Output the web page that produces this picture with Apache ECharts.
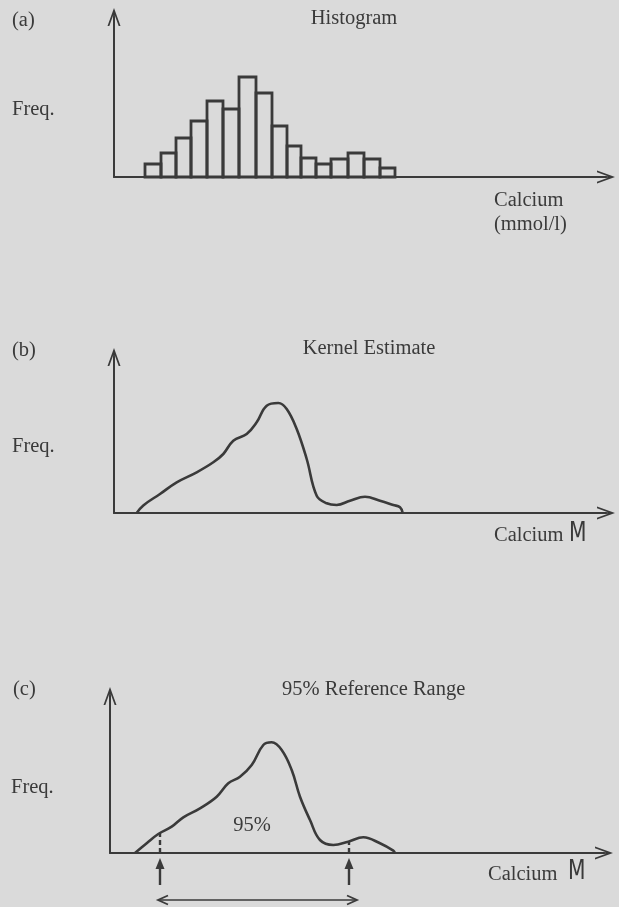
<!DOCTYPE html>
<html>
<head>
<meta charset="utf-8">
<script src="https://cdn.jsdelivr.net/npm/echarts@6/dist/echarts.min.js"></script>
<style>
html,body{margin:0;padding:0;background:#dadada;}
#chart{width:619px;height:907px;}
</style>
</head>
<body>
<div id="chart"></div>
<script>
// ---- data (x: calcium position along axis, y: frequency) ----
const histEdges = [31, 47, 62, 77, 93, 109, 125, 142, 158, 173, 187, 202, 217, 234, 250, 266, 281];
const histFreq  = [13, 24, 39, 56, 76, 68, 100, 84, 51, 31, 19, 13, 18, 24, 18, 9];

const kernelX = [22.7, 29.3, 46, 62.7, 82.7, 99.3, 109.3, 119.3, 132.7, 142.7, 152.7, 164.3, 172.7, 182.7, 192.7, 202.7, 212.7, 222.7, 236, 251, 266, 279.3, 286, 288.7];
const kernelY = [0, 7.6, 19, 30.7, 40.7, 50.7, 59, 72.3, 79, 90.7, 107.3, 110, 104, 84, 54, 17.3, 9.7, 8, 12.3, 16.3, 12.3, 8, 5.7, 0];

const refX = [25, 36.7, 48.3, 61.7, 73.3, 90, 106.7, 118.3, 130, 141.7, 153.3, 161.7, 171.7, 181.7, 190, 200, 210, 223.3, 238.3, 253.3, 270, 283.3, 285];
const refY = [0, 9.7, 19, 26.3, 35.7, 44.7, 56.3, 69.7, 76.3, 88, 108, 110.7, 103, 83, 56.3, 33, 13, 8, 11.3, 15.7, 9.7, 2.3, 0];

const refRange = [50, 239];      // 2.5% and 97.5% limits
const refRangeTop = [20, 11.5];  // curve height at those limits

const panelLetters = ['(a)', '(b)', '(c)'];
const panelTitles = ['Histogram', 'Kernel Estimate', '95% Reference Range'];
const yAxisName = 'Freq.';
const xAxisName = 'Calcium';
const xAxisUnitA = '(mmol/l)';
const xAxisUnitM = 'M';
const areaLabel = '95%';

// ---- styling ----
const INK = '#3a3a3a';
const SERIF = '"Liberation Serif", "DejaVu Serif", serif';
const arrowPath = 'path://M0,18L6.5,0L13,18L11.2,18L6.5,5L1.8,18Z M5.7,3L7.3,3L7.3,18L5.7,18Z';

const grids = [
  {left: 114, top: 17, width: 492, height: 160},
  {left: 114, top: 357, width: 492, height: 156},
  {left: 110, top: 696, width: 494, height: 157}
];

function axisCommon(gi) {
  return {
    gridIndex: gi, type: 'value', min: 0,
    axisLine: {show: true, onZero: false, symbol: ['none', arrowPath], symbolSize: [13, 18],
      lineStyle: {color: INK, width: 2}},
    axisTick: {show: false}, axisLabel: {show: false}, splitLine: {show: false}
  };
}
const xAxes = grids.map((g, i) => Object.assign(axisCommon(i), {max: g.width}));
const yAxes = grids.map((g, i) => Object.assign(axisCommon(i), {max: g.height}));

const histData = histFreq.map((f, i) => [histEdges[i], histEdges[i + 1], f]);
const kernelData = kernelX.map((x, i) => [x, kernelY[i]]);
const refData = refX.map((x, i) => [x, refY[i]]);

function txt(text, x, y, opts) {
  return {
    type: 'text', x: x, y: y, silent: true,
    scaleX: (opts && opts.scaleX) || 1,
    style: Object.assign({
      text: text, fill: INK, font: '20.5px ' + SERIF,
      align: 'left', verticalAlign: 'middle'
    }, (opts && opts.style) || {})
  };
}

const graphics = [
  txt(panelLetters[0], 12, 21),
  txt(yAxisName, 12, 110),
  txt(panelTitles[0], 354, 19, {style: {align: 'center'}}),
  txt(xAxisName, 494, 201),
  txt(xAxisUnitA, 494, 225),

  txt(panelLetters[1], 12, 351),
  txt(yAxisName, 12, 447),
  txt(panelTitles[1], 369, 349, {style: {align: 'center'}}),
  txt(xAxisName, 494, 536),
  txt(xAxisUnitM, 569, 534, {scaleX: 0.78, style: {font: '26px "DejaVu Sans", sans-serif'}}),

  txt(panelLetters[2], 13, 690),
  txt(yAxisName, 11, 788),
  txt(panelTitles[2], 282, 690),
  txt(xAxisName, 488, 875),
  txt(xAxisUnitM, 568, 872, {scaleX: 0.78, style: {font: '26px "DejaVu Sans", sans-serif'}}),

  txt(areaLabel, 252, 826, {style: {align: 'center'}})
];

const option = {
  backgroundColor: '#dadada',
  animation: false,
  grid: grids.map(g => Object.assign({containLabel: false, outerBoundsMode: 'none'}, g)),
  xAxis: xAxes,
  yAxis: yAxes,
  graphic: graphics,
  series: [
    {
      type: 'custom', xAxisIndex: 0, yAxisIndex: 0,
      data: histData,
      renderItem: function (params, api) {
        const p0 = api.coord([api.value(0), api.value(2)]);
        const p1 = api.coord([api.value(1), 0]);
        return {
          type: 'rect',
          shape: {x: p0[0], y: p0[1], width: p1[0] - p0[0], height: p1[1] - p0[1]},
          style: {fill: 'none', stroke: INK, lineWidth: 2.8}
        };
      }
    },
    {
      type: 'line', xAxisIndex: 1, yAxisIndex: 1,
      data: kernelData, smooth: 0.4, showSymbol: false,
      lineStyle: {color: INK, width: 2.6}
    },
    {
      type: 'line', xAxisIndex: 2, yAxisIndex: 2,
      data: refData, smooth: 0.4, showSymbol: false,
      lineStyle: {color: INK, width: 2.6},
      markLine: {
        silent: true, symbol: ['none', 'none'], label: {show: false},
        lineStyle: {color: INK, width: 2.4, type: [5, 3]},
        data: refRange.map((x, i) => [{coord: [x, 0]}, {coord: [x, refRangeTop[i]]}])
      }
    },
    {
      type: 'custom', xAxisIndex: 2, yAxisIndex: 2, clip: false,
      data: refRange.map(x => [x, 0]),
      renderItem: function (params, api) {
        const p = api.coord([api.value(0), 0]);
        return {
          type: 'group',
          children: [
            {type: 'line', shape: {x1: p[0], y1: p[1] + 32, x2: p[0], y2: p[1] + 12},
              style: {stroke: INK, lineWidth: 2.4}},
            {type: 'polygon', shape: {points: [[p[0], p[1] + 5], [p[0] - 4.5, p[1] + 16], [p[0] + 4.5, p[1] + 16]]},
              style: {fill: INK}}
          ]
        };
      }
    },
    {
      type: 'custom', xAxisIndex: 2, yAxisIndex: 2, clip: false,
      data: [[refRange[0], 0, refRange[1]]],
      renderItem: function (params, api) {
        const a = api.coord([api.value(0), 0]);
        const b = api.coord([api.value(2), 0]);
        const y = a[1] + 47;
        const x0 = a[0] - 2, x1 = b[0] + 8;
        return {
          type: 'group',
          children: [
            {type: 'line', shape: {x1: x0, y1: y, x2: x1, y2: y}, style: {stroke: INK, lineWidth: 1.6}},
            {type: 'polyline', shape: {points: [[x0 + 10, y - 4.5], [x0, y], [x0 + 10, y + 4.5]]},
              style: {stroke: INK, lineWidth: 1.8, fill: 'none'}},
            {type: 'polyline', shape: {points: [[x1 - 10, y - 4.5], [x1, y], [x1 - 10, y + 4.5]]},
              style: {stroke: INK, lineWidth: 1.8, fill: 'none'}}
          ]
        };
      }
    }
  ]
};

const chart = echarts.init(document.getElementById('chart'), null, {renderer: 'canvas'});
chart.setOption(option);
</script>
</body>
</html>
